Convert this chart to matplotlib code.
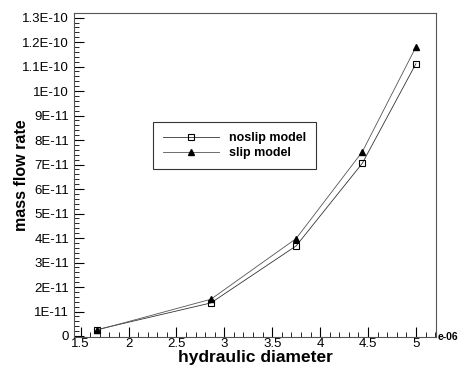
import matplotlib
matplotlib.use('Agg')
import matplotlib.pyplot as plt
from matplotlib.ticker import MultipleLocator, FuncFormatter

plt.rcParams['font.family'] = ['Liberation Sans', 'DejaVu Sans']

# Data (x in units of 1e-6)
diameter = [1.67, 2.86, 3.75, 4.44, 5.0]
noslip = [2.6e-12, 1.35e-11, 3.68e-11, 7.05e-11, 1.112e-10]
slip = [2.4e-12, 1.5e-11, 3.98e-11, 7.52e-11, 1.18e-10]

x_ticks = [1.5, 2, 2.5, 3, 3.5, 4, 4.5, 5]
y_ticks = [i * 1e-11 for i in range(14)]


def yfmt(v, pos):
    if abs(v) < 1e-15:
        return '0'
    s = '%.1E' % v
    mant, exp = s.split('E')
    if mant.endswith('.0'):
        mant = mant[:-2]
    return '%sE-%d' % (mant, abs(int(exp)))


fig = plt.figure(figsize=(4.59, 3.74), dpi=100)
ax = fig.add_axes([0.161, 0.099, 0.789, 0.867])

ax.plot(diameter, noslip, color='#333333', lw=0.6, marker='s', ms=5,
        mfc='none', mec='black', mew=0.8, label='noslip model')
ax.plot(diameter, slip, color='#555555', lw=0.6, marker='^', ms=5,
        mfc='black', mec='black', label='slip model')

ax.set_xticks(x_ticks, ['%g' % v for v in x_ticks])
ax.set_yticks(y_ticks, [yfmt(v, None) for v in y_ticks])
ax.xaxis.set_minor_locator(MultipleLocator(0.1))
ax.yaxis.set_minor_locator(MultipleLocator(2e-12))
ax.set_xlim(1.43, 5.21)
ax.set_ylim(-0.04e-11, 1.32e-10)

ax.tick_params(which='both', direction='in', colors='black', labelsize=9.5)
ax.tick_params(which='major', length=7, width=0.8)
ax.tick_params(which='minor', length=3.5, width=0.6)
ax.tick_params(axis='x', pad=1)
for s in ax.spines.values():
    s.set_color('#555555')
    s.set_linewidth(0.8)

ax.set_xlabel('hydraulic diameter', fontsize=12.5, fontweight='bold', labelpad=0)
ax.set_ylabel('mass flow rate', fontsize=11.5, fontweight='bold', labelpad=-5)
ax.text(1.005, 0.0, 'e-06', transform=ax.transAxes, fontsize=7.5,
        fontweight='bold', va='center', ha='left')

leg = ax.legend(loc='upper left', bbox_to_anchor=(0.218, 0.663),
                prop={'weight': 'bold', 'size': 9.0}, frameon=True, fancybox=False,
                handlelength=4.5, handletextpad=0.8, borderpad=0.8,
                labelspacing=0.25, borderaxespad=0, markerscale=0.8)
leg.get_frame().set_edgecolor('black')
leg.get_frame().set_linewidth(0.8)

fig.savefig('out.png', dpi=100, facecolor='white')
